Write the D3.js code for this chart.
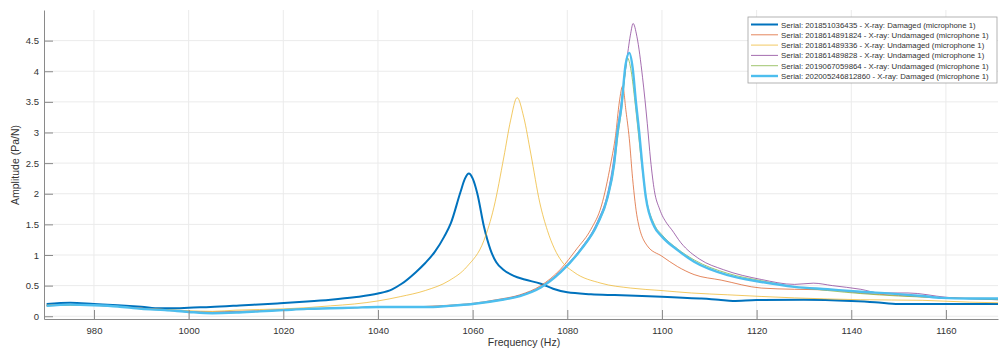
<!DOCTYPE html>
<html>
<head>
<meta charset="utf-8">
<script src="https://cdn.jsdelivr.net/npm/d3@7"></script>
<style>
  body { margin: 0; background: #fff; }
  svg { display: block; font-family: "Liberation Sans", Arial, sans-serif; }
</style>
</head>
<body>
<svg id="chart" width="999" height="349"></svg>
<script>
// [frequency (Hz), amplitude (Pa/N)]
const serial1 = [[970,0.20],[975,0.22],[980,0.20],[985,0.18],[990,0.155],[994,0.13],[997.5,0.13],[1000,0.14],[1004.6,0.15],[1011.7,0.18],[1018.7,0.21],[1025,0.24],[1030,0.27],[1035,0.31],[1040,0.37],[1043,0.44],[1045,0.53],[1048,0.72],[1050,0.87],[1052,1.05],[1054,1.3],[1055.4,1.52],[1057.4,2.02],[1058.4,2.25],[1059.2,2.33],[1060,2.25],[1061,2.0],[1062.4,1.46],[1063.8,1.08],[1065,0.88],[1066.5,0.76],[1068.7,0.66],[1071,0.6],[1074.4,0.53],[1077,0.45],[1080,0.39],[1085,0.36],[1090,0.345],[1100,0.32],[1108,0.29],[1112,0.27],[1115,0.25],[1120,0.265],[1130,0.27],[1140,0.25],[1145,0.23],[1150,0.2],[1160,0.2],[1171,0.2]];
const serial2 = [[970,0.18],[975,0.19],[980,0.18],[985,0.16],[990,0.13],[995,0.11],[1000,0.08],[1005,0.07],[1010,0.08],[1015,0.09],[1020,0.11],[1025,0.12],[1030,0.13],[1035,0.14],[1040,0.15],[1045,0.15],[1050,0.16],[1055,0.18],[1060,0.21],[1065,0.27],[1070,0.35],[1074.4,0.5],[1078.6,0.77],[1082,1.1],[1085,1.42],[1087.2,1.8],[1089.2,2.5],[1090.2,2.95],[1091,3.5],[1091.7,3.76],[1092.4,3.35],[1093.1,2.9],[1093.8,2.25],[1094.8,1.6],[1096.9,1.15],[1100,0.98],[1103.3,0.81],[1106.8,0.68],[1112.5,0.59],[1121,0.46],[1128,0.44],[1135,0.43],[1142,0.38],[1150,0.34],[1160,0.3],[1171,0.29]];
const serial3 = [[970,0.18],[975,0.19],[980,0.18],[985,0.16],[990,0.13],[995,0.11],[1000,0.09],[1005,0.08],[1010,0.1],[1015,0.11],[1020,0.12],[1025,0.14],[1030,0.17],[1035,0.2],[1040,0.25],[1044.7,0.32],[1050,0.42],[1055,0.58],[1058.8,0.81],[1062.4,1.24],[1064.5,1.78],[1066.6,2.6],[1068,3.19],[1069.4,3.57],[1070.8,3.25],[1072.3,2.65],[1074.2,1.85],[1075.8,1.4],[1077.3,1.1],[1078.8,0.9],[1081.4,0.72],[1087.1,0.54],[1093.4,0.46],[1099.8,0.42],[1106.2,0.38],[1113.9,0.35],[1128,0.3],[1142,0.27],[1155,0.26],[1165,0.23],[1171,0.22]];
const serial4 = [[970,0.17],[975,0.19],[980,0.18],[985,0.16],[990,0.13],[995,0.1],[1000,0.07],[1005,0.06],[1010,0.07],[1015,0.08],[1020,0.1],[1025,0.12],[1030,0.13],[1035,0.14],[1040,0.15],[1045,0.15],[1050,0.15],[1055,0.17],[1060,0.2],[1065,0.26],[1070,0.34],[1074.4,0.48],[1078.6,0.74],[1082.8,1.1],[1086.4,1.55],[1088.5,2.0],[1089.7,2.5],[1090.6,3.05],[1091.6,3.6],[1092.6,4.2],[1093.4,4.62],[1093.9,4.78],[1094.7,4.57],[1095.9,3.9],[1096.9,3.15],[1097.6,2.55],[1098.4,2.05],[1099.5,1.75],[1101,1.52],[1102,1.42],[1104,1.2],[1108,0.93],[1113,0.76],[1121,0.6],[1128,0.52],[1132,0.54],[1136,0.5],[1142,0.44],[1146,0.38],[1152,0.38],[1160,0.31],[1171,0.27]];
const serial5 = [[970,0.17],[975,0.18],[980,0.18],[985,0.16],[990,0.12],[995,0.1],[1000,0.07],[1005,0.05],[1010,0.06],[1015,0.08],[1020,0.1],[1025,0.12],[1030,0.13],[1035,0.14],[1040,0.15],[1045,0.15],[1050,0.15],[1055,0.17],[1060,0.2],[1065,0.25],[1070,0.33],[1074.4,0.47],[1078.6,0.72],[1082.8,1.07],[1086.4,1.5],[1088.5,1.92],[1089.9,2.45],[1090.7,2.95],[1091.5,3.4],[1092.2,3.95],[1092.7,4.22],[1093.5,4.0],[1094.3,3.5],[1095,3.0],[1095.7,2.5],[1096.6,1.97],[1098.4,1.5],[1100,1.33],[1103.3,1.1],[1106.8,0.92],[1113.9,0.7],[1121,0.58],[1128,0.48],[1135,0.42],[1142,0.37],[1150,0.33],[1160,0.3],[1171,0.27]];
const serial6 = [[970,0.17],[975,0.19],[980,0.18],[985,0.16],[990,0.12],[995,0.1],[1000,0.07],[1005,0.05],[1010,0.06],[1015,0.08],[1020,0.1],[1025,0.12],[1030,0.13],[1035,0.14],[1040,0.15],[1045,0.15],[1050,0.15],[1055,0.17],[1060,0.2],[1065.9,0.265],[1070,0.33],[1074.4,0.47],[1078.6,0.72],[1082.8,1.08],[1086.4,1.51],[1088.5,1.94],[1089.9,2.49],[1090.6,3.0],[1091.4,3.4],[1092.3,4.1],[1093.1,4.3],[1093.8,4.06],[1094.5,3.5],[1095.2,3.0],[1095.8,2.5],[1096.6,1.94],[1098.4,1.46],[1100,1.3],[1103.3,1.08],[1106.8,0.89],[1113.9,0.67],[1121,0.56],[1128,0.48],[1135,0.44],[1142,0.4],[1148.5,0.37],[1155,0.33],[1159,0.3],[1165,0.29],[1171,0.29]];

const seriesNames = [
  'Serial: 201851036435 - X-ray: Damaged (microphone 1)',
  'Serial: 2018614891824 - X-ray: Undamaged (microphone 1)',
  'Serial: 201861489336 - X-ray: Undamaged (microphone 1)',
  'Serial: 201861489828 - X-ray: Undamaged (microphone 1)',
  'Serial: 2019067059864 - X-ray: Undamaged (microphone 1)',
  'Serial: 202005246812860 - X-ray: Damaged (microphone 1)'
];
const xTicks = [980, 1000, 1020, 1040, 1060, 1080, 1100, 1120, 1140, 1160];
const yTicks = [0, 0.5, 1, 1.5, 2, 2.5, 3, 3.5, 4, 4.5];

const seriesData = [serial1, serial2, serial3, serial4, serial5, serial6];
const colors = ['#0072BD', '#D95319', '#EDB120', '#7E2F8E', '#77AC30', '#4DBEEE'];
const widths = [2, 0.7, 0.7, 0.7, 0.7, 2.4];

const svg = d3.select('#chart');
const m = { left: 44, right: 998, top: 10, bottom: 319 };

const x = d3.scaleLinear().domain([969.44, 1171.0]).range([m.left, m.right]);
const y = d3.scaleLinear().domain([-0.045, 5.0]).range([m.bottom, m.top]);

// grid
const grid = svg.append('g');
grid.selectAll('.vg').data(xTicks).join('line')
  .attr('x1', d => x(d)).attr('x2', d => x(d))
  .attr('y1', m.top).attr('y2', m.bottom)
  .attr('stroke', '#ebebeb').attr('stroke-width', 1);
grid.selectAll('.hg').data(yTicks).join('line')
  .attr('x1', m.left).attr('x2', m.right)
  .attr('y1', d => y(d)).attr('y2', d => y(d))
  .attr('stroke', '#ebebeb').attr('stroke-width', 1);

// lines
const plot = svg.append('g');
plot.append('clipPath').attr('id', 'clip')
  .append('rect').attr('x', m.left).attr('y', m.top).attr('width', m.right - m.left).attr('height', m.bottom - m.top);

const line = d3.line()
  .x(d => x(d[0]))
  .y(d => y(d[1]))
  .curve(d3.curveMonotoneX);

seriesData.forEach((s, i) => {
  plot.append('path')
    .datum(s)
    .attr('clip-path', 'url(#clip)')
    .attr('fill', 'none')
    .attr('stroke', colors[i])
    .attr('stroke-width', widths[i])
    .attr('stroke-linejoin', 'round')
    .attr('d', line);
});

// axes (MATLAB style, ticks pointing inward)
const xAxis = svg.append('g')
  .attr('transform', `translate(0,${m.bottom})`)
  .call(d3.axisBottom(x).tickValues(xTicks).tickSizeInner(-9).tickSizeOuter(0).tickPadding(8).tickFormat(d3.format('')));
const yAxis = svg.append('g')
  .attr('transform', `translate(${m.left},0)`)
  .call(d3.axisLeft(y).tickValues(yTicks).tickSizeInner(-9).tickSizeOuter(0).tickPadding(5).tickFormat(d3.format('')));

[xAxis, yAxis].forEach(a => {
  a.select('.domain').attr('stroke', '#8a8a8a');
  a.selectAll('.tick line').attr('stroke', '#8a8a8a');
  a.selectAll('.tick text').attr('fill', '#333').style('font-size', '9.5px').style('font-family', '"Liberation Sans", Arial, sans-serif');
});

svg.append('text')
  .attr('x', 524).attr('y', 346)
  .attr('text-anchor', 'middle')
  .attr('fill', '#333').style('font-size', '10.5px')
  .text('Frequency (Hz)');

svg.append('text')
  .attr('transform', 'translate(19,165) rotate(-90)')
  .attr('text-anchor', 'middle')
  .attr('fill', '#333').style('font-size', '10.5px')
  .text('Amplitude (Pa/N)');

// legend
const legend = svg.append('g').attr('transform', 'translate(748,17)');
legend.append('rect')
  .attr('x', 0).attr('y', 0).attr('width', 249).attr('height', 66)
  .attr('fill', '#fff').attr('stroke', '#a0a0a0').attr('stroke-width', 0.8);

const rows = legend.selectAll('.row').data(seriesNames).join('g')
  .attr('transform', (d, i) => `translate(0,${7.5 + i * 10.3})`);
rows.append('line')
  .attr('x1', 3).attr('x2', 30).attr('y1', 0).attr('y2', 0)
  .attr('stroke', (d, i) => colors[i])
  .attr('stroke-width', (d, i) => widths[i]);
const labels = rows.append('text')
  .attr('x', 33).attr('y', 3)
  .attr('fill', '#333').style('font-size', '8px')
  .text(d => d);

// shrink legend text so the longest entry fits inside the box
const widest = d3.max(labels.nodes(), n => n.getComputedTextLength());
const fontSize = Math.min(8.6, 8 * 208 / widest);
labels.style('font-size', fontSize + 'px');
</script>
</body>
</html>
